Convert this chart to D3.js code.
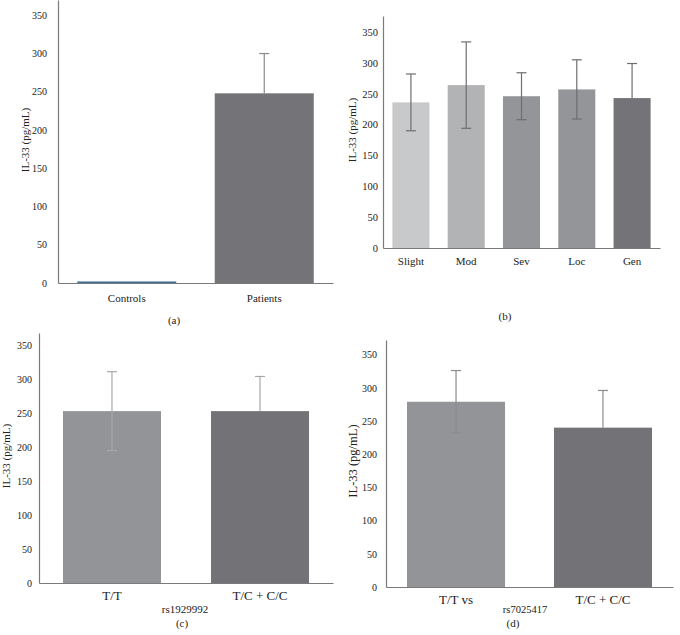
<!DOCTYPE html>
<html>
<head>
<meta charset="utf-8">
<script src="https://cdn.jsdelivr.net/npm/d3@7"></script>
<style>
  body { margin: 0; background: #fff; }
  svg { display: block; }
  text { font-family: "Liberation Serif", "DejaVu Serif", serif; fill: #222; }
</style>
</head>
<body>
<script>
// values
const yTicks = [0, 50, 100, 150, 200, 250, 300, 350]

const catsA = ['Controls', 'Patients']
const meanA = [2, 248]
const sdA = [0, 52]

const catsB = ['Slight', 'Mod', 'Sev', 'Loc', 'Gen']
const meanB = [236, 264, 246, 257, 243]
const sdB = [46, 70, 38, 48, 56]

const catsC = ['T/T', 'T/C + C/C']
const meanC = [253, 253]
const sdC = [58, 51]

const catsD = ['T/T vs', 'T/C + C/C']
const meanD = [279, 240]
const sdD = [47, 56]

const svg = d3.select('body').append('svg')
  .attr('width', 680)
  .attr('height', 635)

// one panel = one small bar chart with error bars
function drawPanel(p) {
  const g = svg.append('g')
  const data = p.cats.map((c, i) => ({ name: c, value: p.mean[i], sd: p.sd[i], low: p.showLow[i] }))

  const x = d3.scaleBand()
    .domain(p.cats)
    .range([p.left, p.right])
    .paddingInner(p.padIn)
    .paddingOuter(p.padOut)
  const y = d3.scaleLinear()
    .domain([0, p.yMax])
    .range([p.bottom, p.top])
  const cx = d => x(d.name) + x.bandwidth() / 2

  // bars
  g.selectAll('rect.bar')
    .data(data)
    .enter().append('rect')
    .attr('class', 'bar')
    .attr('x', d => x(d.name))
    .attr('width', x.bandwidth())
    .attr('y', d => y(d.value))
    .attr('height', d => y(0) - y(d.value))
    .attr('fill', (d, i) => p.colors[i])

  // error bars (the lower half is lost in the darkest bars)
  const err = g.selectAll('g.err')
    .data(data.filter(d => d.sd > 0))
    .enter().append('g')
    .attr('class', 'err')
    .attr('stroke', p.errColor)
    .attr('stroke-width', 1.2)
  err.append('line')
    .attr('x1', cx)
    .attr('x2', cx)
    .attr('y1', d => y(d.value + d.sd))
    .attr('y2', d => d.low ? y(d.value - d.sd) : y(d.value))
  err.selectAll('line.cap')
    .data(d => (d.low ? [d.value + d.sd, d.value - d.sd] : [d.value + d.sd]).map(v => ({ name: d.name, v })))
    .enter().append('line')
    .attr('class', 'cap')
    .attr('x1', d => cx(d) - 5)
    .attr('x2', d => cx(d) + 5)
    .attr('y1', d => y(d.v))
    .attr('y2', d => y(d.v))

  // axes
  const yAxis = d3.axisLeft(y)
    .tickValues(yTicks)
    .tickSize(0)
    .tickSizeOuter(0)
    .tickPadding(p.yPad)
  const ya = g.append('g')
    .attr('transform', `translate(${p.left},0)`)
    .call(yAxis)
  ya.selectAll('text').style('font-size', p.tickSize + 'px').attr('fill', '#222')

  const xAxis = d3.axisBottom(x)
    .tickSize(0)
    .tickSizeOuter(0)
    .tickPadding(p.xPad)
  const xa = g.append('g')
    .attr('transform', `translate(0,${p.bottom})`)
    .call(xAxis)
  xa.selectAll('text').style('font-size', p.catSize + 'px').attr('fill', '#222')

  g.selectAll('.domain').attr('stroke', '#7a7a7a').attr('stroke-width', 1.2)

  // y title
  g.append('text')
    .attr('transform', `translate(${p.titleX},${p.titleY}) rotate(-90)`)
    .attr('text-anchor', 'middle')
    .style('font-size', p.titleSize + 'px')
    .text('IL-33 (pg/mL)')

  if (p.snp) {
    g.append('text')
      .attr('x', p.snpX)
      .attr('y', p.snpY)
      .attr('text-anchor', 'middle')
      .style('font-size', p.snpSize + 'px')
      .text(p.snp)
  }

  g.append('text')
    .attr('x', p.tagX)
    .attr('y', p.tagY)
    .attr('text-anchor', 'middle')
    .style('font-size', '11px')
    .text(p.tag)
}

drawPanel({
  cats: catsA, mean: meanA, sd: sdA, showLow: [false, false],
  colors: ['#3f6f93', '#747478'], errColor: '#8a8a8e',
  left: 58, right: 333, top: 0, bottom: 283, yMax: 370,
  padIn: 0.28, padOut: 0.14, yPad: 11, xPad: 11,
  tickSize: 10, catSize: 11, titleSize: 11, titleX: 29, titleY: 140,
  tag: '(a)', tagX: 174, tagY: 324
})

drawPanel({
  cats: catsB, mean: meanB, sd: sdB, showLow: [true, true, true, true, false],
  colors: ['#c8c9cb', '#b2b3b5', '#949598', '#949598', '#747478'], errColor: '#6e6e72',
  left: 383, right: 660, top: 16, bottom: 248, yMax: 376,
  padIn: 0.33, padOut: 0.17, yPad: 5, xPad: 9,
  tickSize: 10.5, catSize: 11, titleSize: 11, titleX: 356, titleY: 130,
  tag: '(b)', tagX: 505, tagY: 320
})

drawPanel({
  cats: catsC, mean: meanC, sd: sdC, showLow: [true, false],
  colors: ['#939497', '#737377'], errColor: '#a8a8aa',
  left: 39, right: 333, top: 333, bottom: 583, yMax: 368,
  padIn: 0.338, padOut: 0.162, yPad: 7, xPad: 8,
  tickSize: 10, catSize: 13, titleSize: 11, titleX: 10, titleY: 456,
  snp: 'rs1929992', snpSize: 11, snpX: 185, snpY: 613,
  tag: '(c)', tagX: 182, tagY: 627
})

drawPanel({
  cats: catsD, mean: meanD, sd: sdD, showLow: [true, false],
  colors: ['#939497', '#737377'], errColor: '#8c8c90',
  left: 386, right: 673, top: 340, bottom: 587, yMax: 372,
  padIn: 0.333, padOut: 0.143, yPad: 9, xPad: 8,
  tickSize: 10, catSize: 13, titleSize: 12.5, titleX: 357, titleY: 461,
  snp: 'rs7025417', snpSize: 10.5, snpX: 525, snpY: 613,
  tag: '(d)', tagX: 513, tagY: 627
})
</script>
</body>
</html>
